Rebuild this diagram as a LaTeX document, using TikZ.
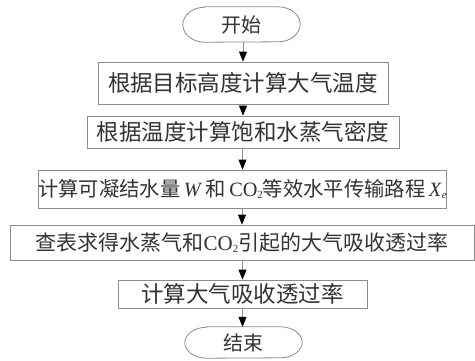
\documentclass[tikz,border=0pt]{standalone}
\usepackage{fontspec}
\setmainfont{Liberation Serif}
\newfontfamily\cjk{Noto Sans CJK SC}
\usetikzlibrary{arrows.meta}
\newcommand\fsz[1]{\fontsize{#1}{#1}\selectfont}
\newcommand\subtwo{\raisebox{-0.25ex}{\fontsize{11pt}{11pt}\selectfont 2}}
\definecolor{edge}{HTML}{8C8C8C}
\definecolor{ink}{HTML}{333333}
\tikzset{
  stepbox/.style={draw=edge, line width=0.8pt, fill=white, text=ink, inner sep=0pt, anchor=center},
  term/.style={text=ink, inner sep=0pt, anchor=center},
  flow/.style={draw=edge, line width=0.8pt, -{Triangle[width=8pt,length=10pt,color=black]}},
}
\begin{document}
\begin{tikzpicture}[x=1pt,y=1pt]
\useasboundingbox[fill=white] (0,0) rectangle (475,-360);
% terminals
\node[term, minimum width=117pt, minimum height=35pt] (s) at (241.5,-24.5) {\cjk\fsz{20pt}开始};
\draw[edge, line width=0.8pt] ([xshift=22pt]s.north west) -- ([xshift=-22pt]s.north east)
  arc[start angle=90, end angle=-90, x radius=22pt, y radius=17.5pt]
  -- ([xshift=22pt]s.south west)
  arc[start angle=270, end angle=90, x radius=22pt, y radius=17.5pt] -- cycle;
\node[stepbox, minimum width=290pt, minimum height=42pt] (b1) at (243,-83) {\cjk\fsz{22.5pt}根据目标高度计算大气温度};
\node[stepbox, minimum width=312pt, minimum height=32pt] (b2) at (243,-132) {\cjk\fsz{22.5pt}根据温度计算饱和水蒸气密度};
\node[stepbox, minimum width=311pt, minimum height=38pt] (b3) at (242.5,-189) {\fsz{20.3pt}{\cjk 计算可凝结水量}\,\textit{W}\,{\cjk 和}\,CO\subtwo{\cjk 等效水平传输路程}\,\textit{X}\raisebox{-0.3ex}{\fontsize{11pt}{11pt}\selectfont\textit{e}}};
\node[stepbox, minimum width=464pt, minimum height=35pt] (b4) at (242,-242.5) {\fsz{21pt}{\cjk 查表求得水蒸气和}CO\subtwo{\cjk 引起的大气吸收透过率}};
\node[stepbox, minimum width=249pt, minimum height=28pt] (b5) at (242.5,-294) {\cjk\fsz{22.5pt}计算大气吸收透过率};
\node[term, minimum width=117pt, minimum height=31pt] (e) at (243.5,-342.5) {\cjk\fsz{20pt}结束};
\draw[edge, line width=0.8pt] ([xshift=22pt]e.north west) -- ([xshift=-22pt]e.north east)
  arc[start angle=90, end angle=-90, x radius=22pt, y radius=15.5pt]
  -- ([xshift=22pt]e.south west)
  arc[start angle=270, end angle=90, x radius=22pt, y radius=15.5pt] -- cycle;
% connectors
\draw[flow] (s.south -| b1.north) -- (b1.north);
\draw[flow] (b1.south) -- (b2.north);
\draw[flow] (b2.south -| b3.north) -- (b3.north);
\draw[flow] (b3.south -| b4.north) -- (b4.north);
\draw[flow] (b4.south -| b5.north) -- (b5.north);
\draw[flow] (b5.south) -- (b5.south |- e.north);
\end{tikzpicture}
\end{document}
